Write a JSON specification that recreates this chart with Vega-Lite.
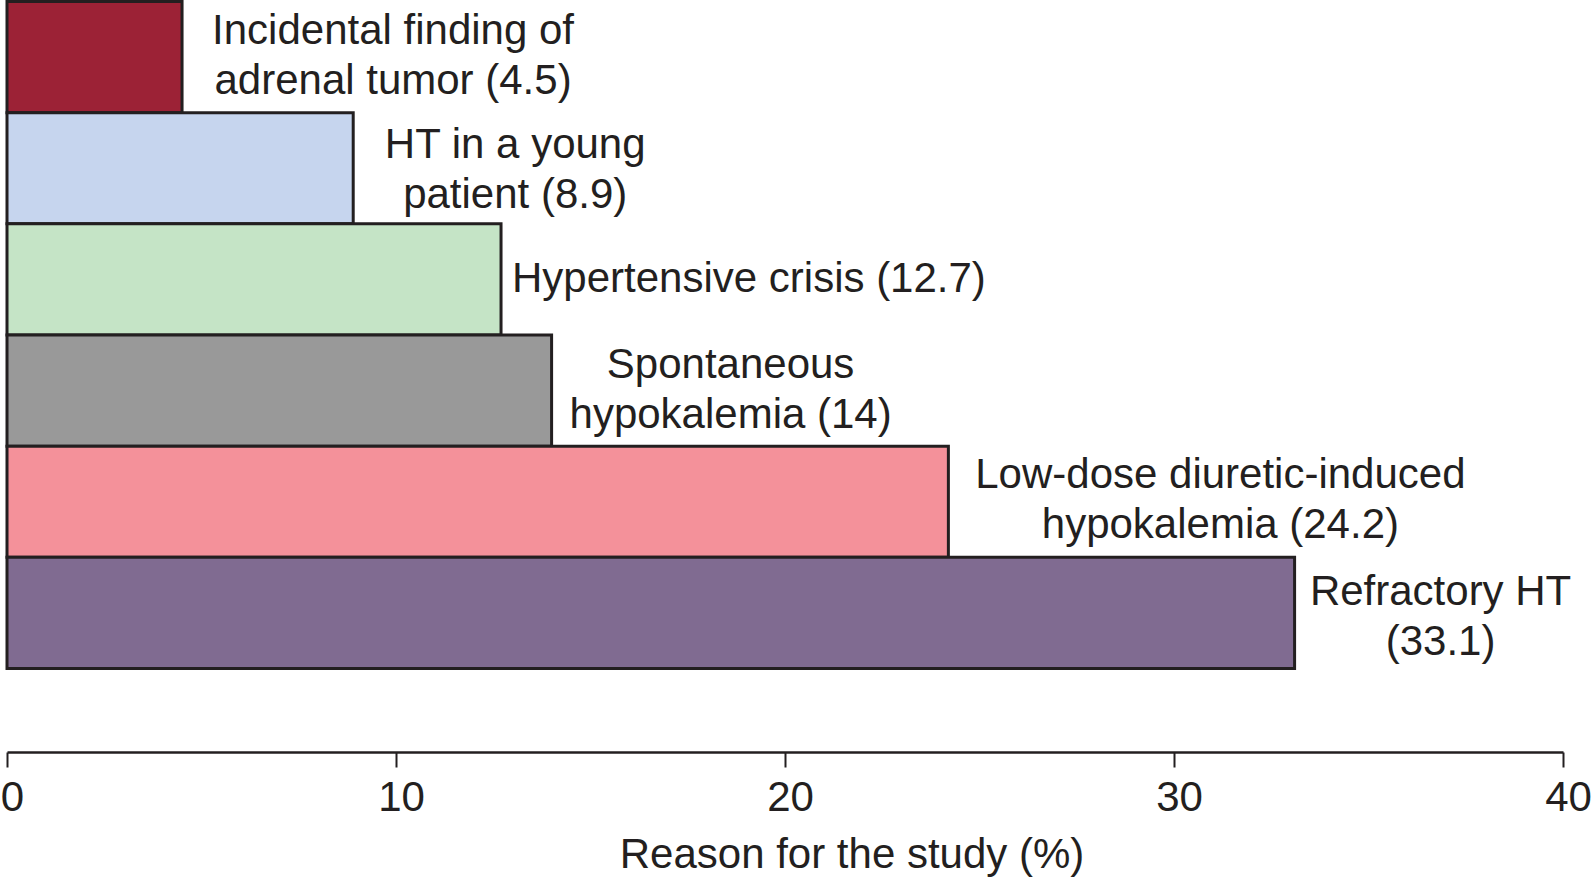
{
  "$schema": "https://vega.github.io/schema/vega-lite/v6.json",
  "width": 1556,
  "height": 667,
  "autosize": {"type": "none"},
  "padding": {"left": 7, "top": 1.5, "right": 29, "bottom": 212.5},
  "background": "white",
  "config": {"view": {"stroke": null}},
  "data": {
    "values": [
      {"reason": "Incidental finding of adrenal tumor", "pct": 4.5, "label": "Incidental finding of\nadrenal tumor (4.5)"},
      {"reason": "HT in a young patient", "pct": 8.9, "label": "HT in a young\npatient (8.9)"},
      {"reason": "Hypertensive crisis", "pct": 12.7, "label": "Hypertensive crisis (12.7)"},
      {"reason": "Spontaneous hypokalemia", "pct": 14, "label": "Spontaneous\nhypokalemia (14)"},
      {"reason": "Low-dose diuretic-induced hypokalemia", "pct": 24.2, "label": "Low-dose diuretic-induced\nhypokalemia (24.2)"},
      {"reason": "Refractory HT", "pct": 33.1, "label": "Refractory HT\n(33.1)"}
    ]
  },
  "encoding": {
    "y": {
      "field": "reason",
      "type": "nominal",
      "sort": null,
      "scale": {"paddingInner": 0, "paddingOuter": 0},
      "axis": null
    },
    "x": {
      "field": "pct",
      "type": "quantitative",
      "scale": {"domain": [0, 40], "nice": false, "zero": true},
      "axis": {
        "values": [0, 10, 20, 30, 40],
        "format": "d",
        "grid": false,
        "offset": 83.5,
        "domainColor": "#231F20",
        "domainWidth": 2.5,
        "tickColor": "#231F20",
        "tickWidth": 2,
        "tickSize": 15,
        "labelFont": "Liberation Sans",
        "labelFontSize": 42,
        "labelColor": "#231F20",
        "labelPadding": 10,
        "labelOffset": 5,
        "labelFlush": false,
        "labelOverlap": false,
        "title": "Reason for the study (%)",
        "titleFont": "Liberation Sans",
        "titleFontSize": 42,
        "titleFontWeight": "normal",
        "titleColor": "#231F20",
        "titleBaseline": "alphabetic",
        "titleX": 844.5,
        "titleY": 115
      }
    }
  },
  "layer": [
    {
      "mark": {"type": "bar", "stroke": "#231F20", "strokeWidth": 3},
      "encoding": {
        "color": {
          "field": "reason",
          "type": "nominal",
          "legend": null,
          "scale": {
            "domain": ["Incidental finding of adrenal tumor", "HT in a young patient", "Hypertensive crisis", "Spontaneous hypokalemia", "Low-dose diuretic-induced hypokalemia", "Refractory HT"],
            "range": ["#9C2236", "#C6D5EE", "#C5E4C6", "#999999", "#F4919A", "#806B91"]
          }
        }
      }
    },
    {
      "transform": [{"filter": "datum.reason === 'Incidental finding of adrenal tumor'"}],
      "mark": {"type": "text", "align": "center", "baseline": "middle", "dx": 211, "dy": -26, "lineBreak": "\n", "lineHeight": 50, "font": "Liberation Sans", "fontSize": 42, "color": "#231F20"},
      "encoding": {"text": {"field": "label"}}
    },
    {
      "transform": [{"filter": "datum.reason === 'HT in a young patient'"}],
      "mark": {"type": "text", "align": "center", "baseline": "middle", "dx": 162, "dy": -23, "lineBreak": "\n", "lineHeight": 50, "font": "Liberation Sans", "fontSize": 42, "color": "#231F20"},
      "encoding": {"text": {"field": "label"}}
    },
    {
      "transform": [{"filter": "datum.reason === 'Hypertensive crisis'"}],
      "mark": {"type": "text", "align": "left", "baseline": "middle", "dx": 11, "lineBreak": "\n", "lineHeight": 50, "font": "Liberation Sans", "fontSize": 42, "color": "#231F20"},
      "encoding": {"text": {"field": "label"}}
    },
    {
      "transform": [{"filter": "datum.reason === 'Spontaneous hypokalemia'"}],
      "mark": {"type": "text", "align": "center", "baseline": "middle", "dx": 179, "dy": -26, "lineBreak": "\n", "lineHeight": 50, "font": "Liberation Sans", "fontSize": 42, "color": "#231F20"},
      "encoding": {"text": {"field": "label"}}
    },
    {
      "transform": [{"filter": "datum.reason === 'Low-dose diuretic-induced hypokalemia'"}],
      "mark": {"type": "text", "align": "center", "baseline": "middle", "dx": 272, "dy": -27, "lineBreak": "\n", "lineHeight": 50, "font": "Liberation Sans", "fontSize": 42, "color": "#231F20"},
      "encoding": {"text": {"field": "label"}}
    },
    {
      "transform": [{"filter": "datum.reason === 'Refractory HT'"}],
      "mark": {"type": "text", "align": "center", "baseline": "middle", "dx": 146, "dy": -21, "lineBreak": "\n", "lineHeight": 50, "font": "Liberation Sans", "fontSize": 42, "color": "#231F20"},
      "encoding": {"text": {"field": "label"}}
    }
  ]
}
